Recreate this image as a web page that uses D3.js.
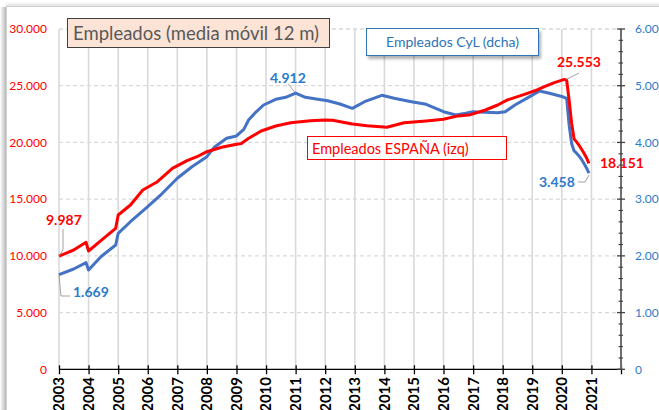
<!DOCTYPE html>
<html><head><meta charset="utf-8">
<script src="https://cdn.jsdelivr.net/npm/d3@7"></script>
<style>html,body{margin:0;padding:0;background:#fff;overflow:hidden}svg{display:block;font-family:Lato,"Open Sans",sans-serif}</style>
</head><body><svg id="c" width="659" height="410"></svg>
<script>
// ---- data ----
const spainDates = ["2003-01","2003-04","2003-07","2003-12","2004-01","2004-06","2004-12","2005-01","2005-06","2005-11","2006-05","2006-11","2007-05","2007-09","2008-01","2008-07","2008-12","2009-03","2009-06","2009-11","2010-05","2010-11","2011-07","2012-01","2012-04","2012-12","2013-06","2014-02","2014-09","2015-06","2016-01","2016-06","2016-12","2017-06","2017-11","2018-03","2018-08","2018-11","2019-03","2019-06","2019-10","2020-02","2020-03","2020-04","2020-05","2020-06","2020-07","2020-08","2020-09","2020-10","2020-11","2020-12"];
const spainValues = [9987,10250,10517,11196,10430,11337,12430,13600,14485,15807,16540,17720,18390,18740,19183,19570,19800,19900,20365,21008,21450,21741,21918,21978,21950,21626,21476,21335,21741,21890,22040,22300,22450,22860,23300,23750,24100,24332,24623,24914,25266,25553,25480,23700,21700,20300,20050,19750,19400,19050,18650,18151];
const cylDates = ["2003-01","2003-07","2003-12","2004-01","2004-06","2004-12","2005-01","2005-06","2006-01","2006-07","2007-01","2007-07","2008-01","2008-04","2008-09","2009-01","2009-04","2009-06","2009-09","2009-12","2010-05","2010-09","2011-01","2011-05","2011-10","2012-02","2012-07","2012-12","2013-05","2013-12","2014-05","2014-12","2015-06","2016-01","2016-06","2016-10","2017-01","2017-06","2017-11","2018-02","2018-06","2018-12","2019-04","2019-08","2020-01","2020-03","2020-04","2020-05","2020-06","2020-07","2020-08","2020-09","2020-10","2020-11","2020-12"];
const cylValues = [1669,1768,1880,1751,1985,2192,2398,2602,2867,3103,3368,3572,3749,3914,4073,4114,4230,4400,4540,4660,4761,4796,4870,4796,4761,4735,4677,4601,4718,4831,4778,4718,4672,4542,4483,4513,4542,4530,4524,4540,4660,4807,4906,4866,4810,4778,4300,3980,3850,3810,3760,3700,3630,3550,3458];
const yearTicks = [2003,2004,2005,2006,2007,2008,2009,2010,2011,2012,2013,2014,2015,2016,2017,2018,2019,2020,2021];
const leftTicks = [0,5000,10000,15000,20000,25000,30000];
const rightTicks = [0,1000,2000,3000,4000,5000,6000];
const titleText = "Empleados (media móvil 12 m)";
const cylLegend = "Empleados CyL (dcha)";
const spainLegend = "Empleados ESPAÑA (izq)";
// annotation labels: [series, date, text]
const annotations = [
  ["spain","2003-01","9.987"],["cyl","2003-01","1.669"],["cyl","2011-01","4.912"],
  ["spain","2020-02","25.553"],["spain","2020-12","18.151"],["cyl","2020-12","3.458"]
];

const RED="#FF0000", BLUE_LINE="#4472C4", BLUE_TXT="#2B7BCB", GRID="#D9D9D9";
const svg=d3.select("#c");
const parse=d3.timeParse("%Y-%m");
const fmt=d3.formatLocale({decimal:",",thousands:".",grouping:[3],currency:["","€"]}).format(",");

const x=d3.scaleTime().domain([new Date(2003,0,1),new Date(2022,0,1)]).range([59,621]);
const yL=d3.scaleLinear().domain([0,30000]).range([369.3,29]);
const yR=d3.scaleLinear().domain([0,6000]).range([369.3,29]);

// frame + shadow
const defs=svg.append("defs");
const g1=defs.append("linearGradient").attr("id","sh").attr("x1","0").attr("x2","1");
g1.append("stop").attr("offset","0").attr("stop-color","#fff");
g1.append("stop").attr("offset","1").attr("stop-color","#b8b8b8");
svg.append("rect").attr("x",0).attr("y",7).attr("width",6).attr("height",410).attr("fill","url(#sh)");
const g2=defs.append("linearGradient").attr("id","sh2").attr("x1","0").attr("x2","0").attr("y1","0").attr("y2","1");
g2.append("stop").attr("offset","0").attr("stop-color","#fff");
g2.append("stop").attr("offset","1").attr("stop-color","#e0e0e0");
svg.append("rect").attr("x",6).attr("y",2).attr("width",660).attr("height",4).attr("fill","url(#sh2)");
svg.append("rect").attr("x",6.5).attr("y",6.5).attr("width",700).attr("height",500).attr("fill","#fff").attr("stroke","#d0d0d0");
const ds=defs.append("filter").attr("id","ds").attr("x","-10%").attr("y","-20%").attr("width","130%").attr("height","160%");
ds.append("feDropShadow").attr("dx",2).attr("dy",3).attr("stdDeviation",1.5).attr("flood-color","#000").attr("flood-opacity",0.3);

// horizontal dashed gridlines
svg.append("g").selectAll("line").data(leftTicks.filter(d=>d>0)).join("line")
  .attr("x1",59).attr("x2",621).attr("y1",d=>yL(d)).attr("y2",d=>yL(d))
  .attr("stroke",GRID).attr("stroke-width",1.3).attr("stroke-dasharray","4,3");
// vertical gridlines
svg.append("g").selectAll("line").data(yearTicks).join("line")
  .attr("x1",d=>x(new Date(d,0,1))).attr("x2",d=>x(new Date(d,0,1)))
  .attr("y1",29).attr("y2",369.3).attr("stroke",GRID).attr("stroke-width",1.6);

// left labels
svg.append("g").selectAll("text").data(leftTicks).join("text")
  .attr("x",47).attr("y",d=>yL(d)).attr("dy","0.35em").attr("text-anchor","end")
  .attr("fill",RED).attr("font-size",12).text(d=>fmt(d));

// x axis
const xAxis=d3.axisBottom(x).tickValues(yearTicks.concat([2022]).map(d=>new Date(d,0,1))).tickSize(5).tickFormat("");
const xg=svg.append("g").attr("transform","translate(0,369.3)").call(xAxis);
xg.select(".domain").attr("stroke","#000").attr("stroke-width",1.3).attr("d","M59,0H621");
xg.selectAll(".tick line").attr("stroke","#000").attr("stroke-width",1.3).attr("y1",-4).attr("y2",5);
svg.append("g").selectAll("text").data(yearTicks).join("text")
  .attr("transform",d=>`translate(${x(new Date(d,0,1))},377) rotate(-90)`)
  .attr("text-anchor","end").attr("dy","0.36em").attr("font-weight","bold").attr("font-size",15).attr("fill","#000")
  .text(d=>d);

// right axis
const minor=d3.range(0,6001,200).filter(d=>d%1000!==0);
svg.append("line").attr("x1",621).attr("x2",621).attr("y1",yR(6000)).attr("y2",yR(0)).attr("stroke","#6f6f6f").attr("stroke-width",2);
svg.append("g").selectAll("line").data(rightTicks).join("line")
  .attr("x1",617).attr("x2",625).attr("y1",d=>yR(d)).attr("y2",d=>yR(d)).attr("stroke","#404040").attr("stroke-width",1.3);
svg.append("g").selectAll("line").data(minor).join("line")
  .attr("x1",618.5).attr("x2",623).attr("y1",d=>yR(d)).attr("y2",d=>yR(d)).attr("stroke","#404040").attr("stroke-width",1.1);
svg.append("g").selectAll("text").data(rightTicks).join("text")
  .attr("x",635).attr("y",d=>yR(d)).attr("dy","0.35em").attr("fill",BLUE_TXT).attr("font-size",12).text(d=>fmt(d));

// series
const spain=spainDates.map((d,i)=>({date:parse(d),v:spainValues[i]}));
const cyl=cylDates.map((d,i)=>({date:parse(d),v:cylValues[i]}));
svg.append("path").datum(cyl).attr("fill","none").attr("stroke",BLUE_LINE).attr("stroke-width",3).attr("stroke-linejoin","round")
  .attr("d",d3.line().x(d=>x(d.date)).y(d=>yR(d.v)));
svg.append("path").datum(spain).attr("fill","none").attr("stroke",RED).attr("stroke-width",3).attr("stroke-linejoin","round")
  .attr("d",d3.line().x(d=>x(d.date)).y(d=>yL(d.v)));

// title box
svg.append("rect").attr("x",67.5).attr("y",18.5).attr("width",262).attr("height",29).attr("fill","#FBE3D6").attr("stroke","#404040").attr("stroke-width",1);
svg.append("text").attr("x",73).attr("y",39.5).attr("font-size",18.5).attr("fill","#595959").text(titleText);
// CyL legend
svg.append("rect").attr("x",366.5).attr("y",28.5).attr("width",172).attr("height",27).attr("fill","#fff").attr("stroke","#2E75B6").attr("filter","url(#ds)");
svg.append("text").attr("x",452.5).attr("y",47).attr("text-anchor","middle").attr("font-size",14).attr("fill","#2E75B6").text(cylLegend);
// Spain legend
svg.append("rect").attr("x",307.5).attr("y",136.5).attr("width",199).attr("height",23).attr("fill","#fff").attr("stroke",RED);
svg.append("text").attr("x",312).attr("y",153.5).attr("font-size",14.5).attr("fill",RED).text(spainLegend);

// annotations
const ann={};
annotations.forEach(a=>{
  const ser=a[0]==="spain"?spain:cyl, sc=a[0]==="spain"?yL:yR;
  const p=ser.find(d=>+d.date===+parse(a[1]));
  ann[a[2]]={px:x(p.date),py:sc(p.v),text:a[2],color:a[0]==="spain"?RED:BLUE_TXT};
});
const place={ // label position + leader path
  "9.987":{tx:46,ty:225,path:p=>`M${p.px},${p.py}L63,250L63,229`},
  "1.669":{tx:73,ty:297,path:p=>`M${p.px},${p.py}L61,296L70,296`},
  "4.912":{tx:270,ty:83,path:p=>`M${p.px},${p.py}L288,84`},
  "25.553":{tx:557,ty:67,path:p=>`M${p.px+2},${p.py}L579,73`},
  "18.151":{tx:600,ty:168,path:null},
  "3.458":{tx:539,ty:187,path:p=>`M${p.px},${p.py+2}L585,182L578,182`}
};
Object.values(ann).forEach(a=>{
  const pl=place[a.text];
  if(pl.path) svg.append("path").attr("d",pl.path(a)).attr("fill","none").attr("stroke","#8c8c8c").attr("stroke-width",0.8);
  svg.append("text").attr("x",pl.tx).attr("y",pl.ty).attr("font-size",14).attr("font-weight","bold").attr("fill",a.color).text(a.text);
});
</script></body></html>
